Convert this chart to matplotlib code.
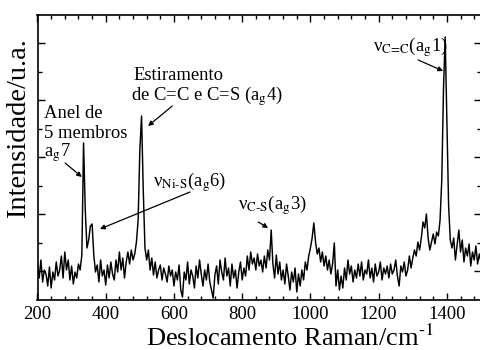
import numpy as np
import matplotlib
matplotlib.use("Agg")
import matplotlib.pyplot as plt
from matplotlib.ticker import MultipleLocator, FixedLocator

plt.rcParams['font.family'] = ['Liberation Serif', 'DejaVu Serif']
plt.rcParams['mathtext.fontset'] = 'stix'

# Raman shift grid (cm^-1), 5 cm^-1 step
wavenumber = np.arange(200, 1501, 5)
# Intensity (a.u.)
intensity = [
    35, 22, 40, 18, 30, 26, 14, 33, 12, 28,
    20, 38, 24, 30, 44, 22, 48, 30, 40, 20,
    34, 16, 28, 22, 36, 30, 45, 157, 90, 52,
    60, 74, 76, 45, 28, 35, 18, 40, 24, 30,
    15, 35, 22, 38, 26, 20, 40, 28, 48, 30,
    42, 22, 38, 48, 36, 50, 40, 46, 58, 80,
    150, 184, 110, 52, 40, 50, 30, 42, 25, 38,
    22, 30, 35, 20, 32, 26, 18, 34, 24, 30,
    14, 28, 20, 35, 10, 3, 28, 20, 38, 16,
    30, 24, 12, 34, 22, 40, 26, 14, 30, 20,
    36, 18, 10, 2, 25, 34, 16, 40, 28, 20,
    42, 24, 32, 14, 36, 22, 30, 12, 28, 38,
    20, 32, 24, 44, 30, 48, 36, 42, 30, 46,
    34, 40, 28, 44, 32, 50, 40, 70, 36, 22,
    45, 26, 38, 20, 30, 16, 36, 24, 10, 28,
    18, 32, 8, 26, 14, 30, 20, 38, 30, 44,
    52, 62, 77, 58, 46, 52, 38, 48, 34, 44,
    30, 40, 26, 36, 57, 14, 30, 10, 24, 12,
    32, 20, 40, 26, 34, 18, 30, 22, 36, 24,
    38, 20, 30, 26, 40, 22, 32, 18, 36, 24,
    28, 38, 20, 32, 26, 34, 22, 36, 26, 30,
    40, 24, 14, 34, 28, 38, 24, 30, 44, 32,
    42, 50, 44, 58, 50, 62, 78, 72, 86, 62,
    50, 58, 66, 56, 68, 64, 80, 120, 210, 263,
    180, 95, 60, 52, 62, 40, 55, 70, 48, 60,
    38, 52, 44, 56, 34, 48, 40, 54, 36, 46,
    38,
]

x_major = [200, 400, 600, 800, 1000, 1200, 1400]
y_major = [29, 86, 143, 200, 257]
y_minor = [57.5, 114.5, 171.5, 228.5]

W, H = 480, 350
fig = plt.figure(figsize=(4.8, 3.5), dpi=100)
ax = fig.add_axes([37.5 / W, 1 - 300 / H, (481 - 37.5) / W, (300 - 15) / H])

ax.plot(wavenumber, intensity, color='black', lw=1.05)
ax.set_xlim(200, 1500)
ax.set_ylim(0, 285)

ax.xaxis.set_major_locator(FixedLocator(x_major))
ax.xaxis.set_minor_locator(MultipleLocator(40))
ax.yaxis.set_major_locator(FixedLocator(y_major))
ax.yaxis.set_minor_locator(FixedLocator(y_minor))
ax.tick_params(which='both', direction='in', top=True, right=True, width=1.0)
ax.tick_params(which='major', length=5, labelsize=13.5, pad=4)
ax.tick_params(which='minor', length=3)
ax.tick_params(axis='y', labelleft=False)
for s in ax.spines.values():
    s.set_linewidth(1.2)

def fx(px):
    return px / W

def fy(py):
    return 1 - py / H

fig.text(fx(290), fy(338), r'Deslocamento Raman/cm$^{\text{-1}}$', fontsize=19,
         ha='center', va='center')
fig.text(fx(19), fy(128), 'Intensidade/u.a.', fontsize=20.5, rotation=90,
         ha='center', va='center')

fs = 13.4
arrow = dict(arrowstyle='-|>', color='black', lw=0.9, mutation_scale=7,
             shrinkA=0, shrinkB=0)

ax.text(219, 187, 'Anel de', fontsize=fs, ha='left', va='center')
ax.text(219, 167, '5 membros', fontsize=fs, ha='left', va='center')
ax.text(219, 147, r'a$_\mathrm{g}$7', fontsize=fs, ha='left', va='center')
ax.annotate('', xy=(330, 123), xytext=(281, 137), arrowprops=arrow)

ax.text(482, 225, 'Estiramento', fontsize=fs, ha='left', va='center')
ax.text(473, 204, r'de C=C e C=S (a$_\mathrm{g}$4)', fontsize=fs, ha='left', va='center')
ax.annotate('', xy=(524, 174), xytext=(595, 194), arrowprops=arrow)

ax.text(539, 118, r'ν$_{\text{Ni-S}}$(a$_\mathrm{g}$6)', fontsize=fs, ha='left', va='center')
ax.annotate('', xy=(383, 71), xytext=(647, 108), arrowprops=arrow)

ax.text(788, 95, r'ν$_{\text{C-S}}$(a$_\mathrm{g}$3)', fontsize=fs, ha='left', va='center')
ax.annotate('', xy=(876, 72), xytext=(847, 78), arrowprops=arrow)

ax.text(1184, 253, r'ν$_{\text{C=C}}$(a$_\mathrm{g}$1)', fontsize=fs, ha='left', va='center')
ax.annotate('', xy=(1389, 229), xytext=(1316, 240), arrowprops=arrow)

fig.savefig('out.png', dpi=100)
